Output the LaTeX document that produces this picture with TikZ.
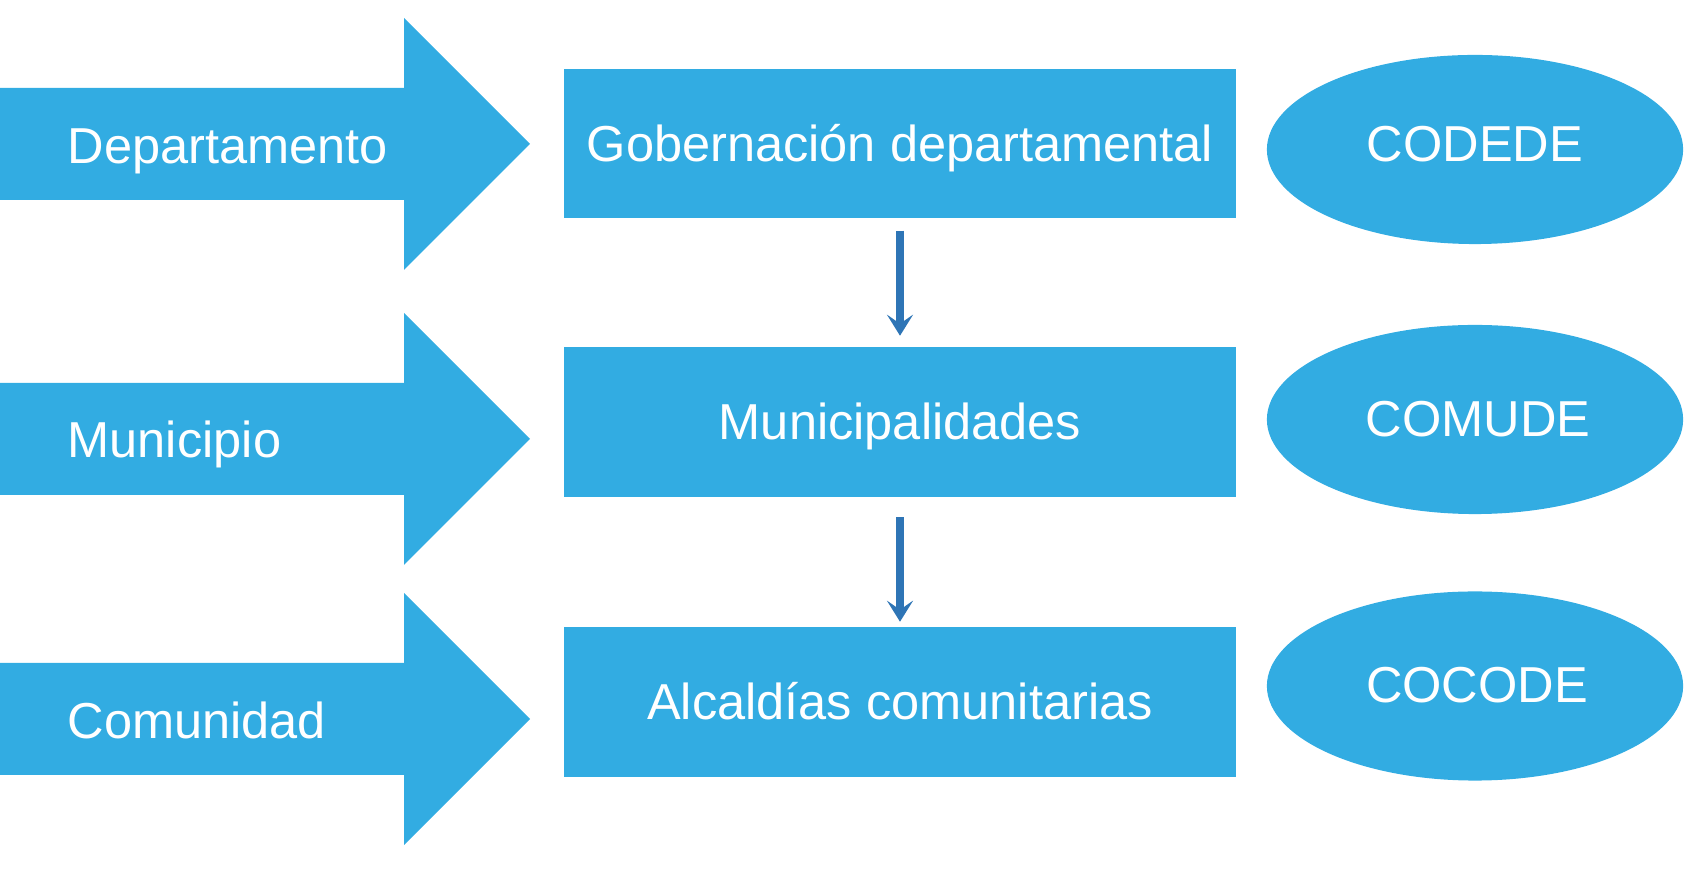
\documentclass[tikz,border=0pt]{standalone}
\usepackage{fontspec}
\setmainfont{Liberation Sans}
\usetikzlibrary{arrows.meta,shapes.geometric}
\definecolor{fillblue}{RGB}{50,172,226}
\definecolor{linkblue}{RGB}{46,117,182}
\begin{document}
\begin{tikzpicture}[x=0.01cm,y=-0.01cm,
  txt/.style={text=white, font=\fontsize{14.37pt}{17pt}\selectfont, inner sep=0pt},
  bigarrow/.style={fill=fillblue},
  levelbox/.style={fill=fillblue, rectangle, minimum width=6.72cm, minimum height=1.49cm, inner sep=0pt},
  council/.style={fill=fillblue, ellipse, minimum width=4.16cm, minimum height=1.89cm, inner sep=0pt},
  conn/.style={draw=linkblue, line width=0.075cm, -{Stealth[length=0.21cm, width=0.26cm, inset=0.09cm]}}]
\useasboundingbox (0,0) rectangle (1703,880);

% big arrows
\fill[bigarrow] (0,88) -- (404,88) -- (404,18) -- (530,144) -- (404,270) -- (404,200) -- (0,200) -- cycle;
\fill[bigarrow] (0,383) -- (404,383) -- (404,313) -- (530,439) -- (404,565) -- (404,495) -- (0,495) -- cycle;
\fill[bigarrow] (0,663) -- (404,663) -- (404,593) -- (530,719) -- (404,845) -- (404,775) -- (0,775) -- cycle;

\node[txt, anchor=base west] (ldep) at (67,164) {Departamento};
\node[txt, anchor=base west] (lmun) at (67,458) {Municipio};
\node[txt, anchor=base west] (lcom) at (67,739) {Comunidad};

% boxes
\node[levelbox] (gob) at (900,143.5) {};
\node[levelbox] (mun) at (900,422) {};
\node[levelbox] (alc) at (900,702) {};
\node[txt, anchor=base] (tgob) at (900,162) {Gobernación departamental};
\node[txt, anchor=base] (tmun) at (900,440) {Municipalidades};
\node[txt, anchor=base] (talc) at (900,720) {Alcaldías comunitarias};

% ellipses
\node[council] (codede) at (1475,149.5) {};
\node[council] (comude) at (1475,419.5) {};
\node[council] (cocode) at (1475,686) {};
\node[txt, anchor=base] (tcodede) at (1475,162) {CODEDE};
\node[txt, anchor=base] (tcomude) at (1478,437) {COMUDE};
\node[txt, anchor=base] (tcocode) at (1477,703) {COCODE};

% connectors
\draw[conn, shorten <=0.12cm, shorten >=0.11cm] (gob.south) -- (mun.north);
\draw[conn, shorten <=0.2cm, shorten >=0.05cm] (mun.south) -- (alc.north);
\end{tikzpicture}
\end{document}
